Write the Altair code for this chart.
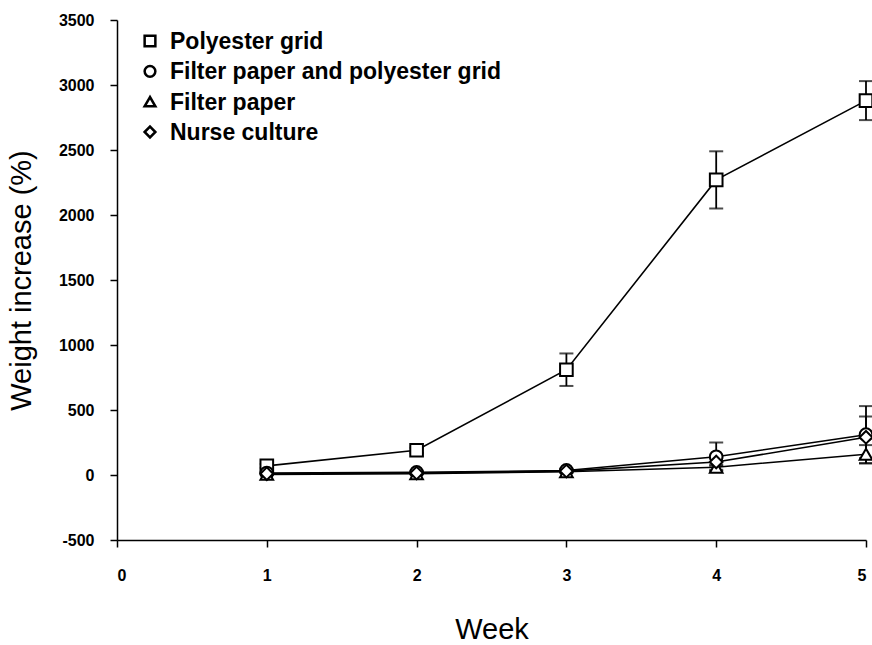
import altair as alt
import pandas as pd

weeks = [1, 2, 3, 4, 5]
series_names = [
    "Polyester grid",
    "Filter paper and polyester grid",
    "Filter paper",
    "Nurse culture",
]
shapes = ["square", "circle", "triangle-up", "diamond"]

polyester_grid = [70, 190, 810, 2270, 2880]
polyester_grid_err = [15, 20, 125, 220, 150]

filter_and_grid = [15, 20, 35, 140, 310]
filter_and_grid_err = [8, 8, 12, 110, 220]

filter_paper = [5, 10, 25, 60, 160]
filter_paper_err = [5, 5, 8, 20, 70]

nurse_culture = [10, 15, 30, 100, 290]
nurse_culture_err = [5, 5, 10, 30, 160]

values = [polyester_grid, filter_and_grid, filter_paper, nurse_culture]
errors = [polyester_grid_err, filter_and_grid_err, filter_paper_err, nurse_culture_err]

rows = []
for name, vals, errs in zip(series_names, values, errors):
    for w, v, e in zip(weeks, vals, errs):
        rows.append({"series": name, "week": w, "value": v,
                     "lo": v - e, "hi": v + e})
df = pd.DataFrame(rows)
legend_df = pd.DataFrame({"series": series_names})

FONT = "Liberation Sans"
shape_scale = alt.Scale(domain=series_names, range=shapes)

x = alt.X("week:Q", title="Week",
          scale=alt.Scale(domain=[0, 5], nice=False, zero=False),
          axis=alt.Axis(values=[0, 1, 2, 3, 4, 5], labelExpr="datum.value",
                        titlePadding=32, labelPadding=20))
y = alt.Y("value:Q", title="Weight increase (%)",
          scale=alt.Scale(domain=[-500, 3500], nice=False, zero=False),
          axis=alt.Axis(values=list(range(-500, 3501, 500)),
                        labelExpr="datum.value",
                        titlePadding=22, labelPadding=16))

base = alt.Chart(df)

lines = base.mark_line(color="black", strokeWidth=1.6).encode(
    x=x, y=y, detail="series:N", order="week:Q")

bars = base.mark_rule(color="black", strokeWidth=1.8).encode(
    x="week:Q", y="lo:Q", y2="hi:Q")

caps_hi = base.mark_tick(color="black", thickness=2, size=14,
                         orient="horizontal").encode(x="week:Q", y="hi:Q")
caps_lo = base.mark_tick(color="black", thickness=2, size=14,
                         orient="horizontal").encode(x="week:Q", y="lo:Q")

points = base.mark_point(filled=True, fill="white", stroke="black",
                         strokeWidth=2, opacity=1).encode(
    x="week:Q", y="value:Q",
    shape=alt.Shape("series:N", scale=shape_scale, legend=None),
    size=alt.value(160),
)

data_layers = alt.layer(lines, bars, caps_hi, caps_lo, points)

# Key in the upper-left corner: one row per series
row_y = alt.Y("series:N", axis=None,
              scale=alt.Scale(type="point", domain=series_names,
                              range=[21, 112], padding=0))
key_symbols = alt.Chart(legend_df).mark_point(
    filled=True, fill="white", stroke="black", strokeWidth=2.5, opacity=1
).encode(
    x=alt.value(33), y=row_y,
    shape=alt.Shape("series:N", scale=shape_scale, legend=None),
    size=alt.value(115),
)
key_labels = alt.Chart(legend_df).mark_text(
    align="left", baseline="middle", font=FONT, fontSize=23,
    fontWeight="bold", color="black", dy=1
).encode(x=alt.value(53), y=row_y, text="series:N")
key = alt.layer(key_symbols, key_labels)

chart = alt.layer(data_layers, key).resolve_scale(y="independent").properties(
    width=749, height=520,
    autosize=alt.AutoSizeParams(type="none"),
    padding={"left": 117, "top": 20, "right": 6, "bottom": 105},
    background="white",
).configure_view(stroke=None).configure_axis(
    grid=False,
    domainColor="black", domainWidth=1.5,
    tickColor="black", tickWidth=1.5, tickSize=7,
    labelFont=FONT, labelFontSize=16, labelFontWeight="bold",
    labelColor="black",
    titleFont=FONT, titleFontSize=29, titleFontWeight="normal",
    titleColor="black",
)

chart.save("out.html", embed_options={"renderer": "svg", "actions": False})
